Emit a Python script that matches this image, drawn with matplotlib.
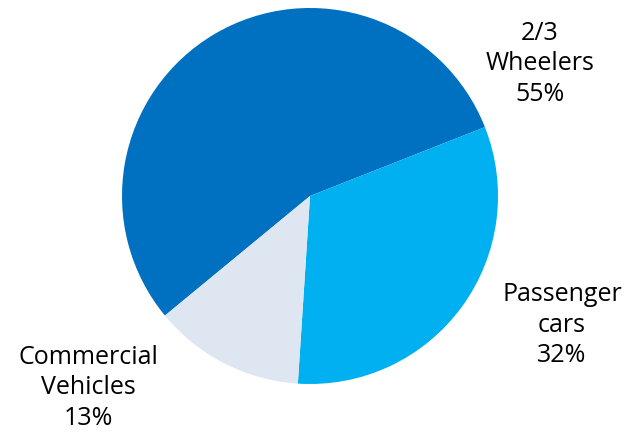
import matplotlib.pyplot as plt

labels = ["2/3\nWheelers", "Passenger\ncars", "Commercial\nVehicles"]
shares = [55, 32, 13]
colors = ["#0070C0", "#00B0F0", "#DEE6F2"]

fig = plt.figure(figsize=(6.35, 4.41), dpi=100)
ax = fig.add_axes([0, 0, 1, 1])

ax.pie(shares, colors=colors, startangle=219.5, counterclock=False,
       center=(310, 245), radius=188, frame=True,
       wedgeprops={"linewidth": 0})
ax.set_xlim(0, 635)
ax.set_ylim(0, 441)
ax.set_aspect("equal")
ax.axis("off")

# label positions (pixels from the bottom left)
label_pos = [(540, 377), (562, 116), (88, 53)]
for lab, s, (x, y) in zip(labels, shares, label_pos):
    ax.text(x, y, f"{lab}\n{s}%", ha="center", va="center",
            fontsize=18, family="Open Sans", linespacing=1.3)

fig.savefig("out.png", dpi=100)
